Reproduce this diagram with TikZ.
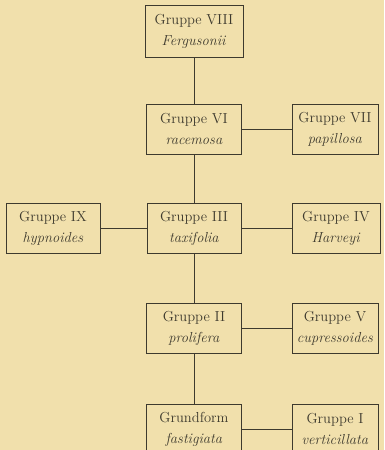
\documentclass[tikz,border=0pt]{standalone}
\usepackage{xcolor}
\usepackage{tikz}
\usetikzlibrary{positioning}

\definecolor{paper}{RGB}{241,224,172}
\definecolor{ink}{RGB}{62,58,46}

\begin{document}
\begin{tikzpicture}[
    x=1pt, y=-1pt,
    gnode/.style={draw=ink, text=ink, line width=0.9pt, minimum width=95pt, minimum height=50pt, align=center, font=\fontsize{14.5}{21}\selectfont, inner sep=0pt},
    snode/.style={gnode, minimum width=86pt}
]
\fill[paper] (0,0) rectangle (384,450);
\useasboundingbox (0,0) rectangle (384,450);

\node[gnode, minimum width=98pt, minimum height=52pt] (fergusonii) at (194, 31) {Gruppe VIII \\ \textit{Fergusonii}};
\node[gnode] (racemosa) at (194, 129) {Gruppe VI \\ \textit{racemosa}};
\node[snode] (papillosa) at (335, 129) {Gruppe VII \\ \textit{papillosa}};
\node[gnode, minimum width=94pt] (hypnoides) at (53, 228) {Gruppe IX \\ \textit{hypnoides}};
\node[gnode, minimum width=94pt] (taxifolia) at (194, 228) {Gruppe III \\ \textit{taxifolia}};
\node[snode, minimum width=88pt] (harveyi) at (336, 228) {Gruppe IV \\ \textit{Harveyi}};
\node[gnode] (prolifera) at (194, 328) {Gruppe II \\ \textit{prolifera}};
\node[snode] (cupressoides) at (335, 328) {Gruppe V \\ \textit{cupressoides}};
\node[gnode] (fastigiata) at (194, 429) {Grundform \\ \textit{fastigiata}};
\node[snode] (verticillata) at (335, 429) {Gruppe I \\ \textit{verticillata}};

\draw[ink, line width=0.9pt] (fergusonii) -- (racemosa);
\draw[ink, line width=0.9pt] (racemosa) -- (taxifolia);
\draw[ink, line width=0.9pt] (taxifolia) -- (prolifera);
\draw[ink, line width=0.9pt] (prolifera) -- (fastigiata);
\draw[ink, line width=0.9pt] (racemosa) -- (papillosa);
\draw[ink, line width=0.9pt] (hypnoides) -- (taxifolia);
\draw[ink, line width=0.9pt] (taxifolia) -- (harveyi);
\draw[ink, line width=0.9pt] (prolifera) -- (cupressoides);
\draw[ink, line width=0.9pt] (fastigiata) -- (verticillata);
\end{tikzpicture}
\end{document}
